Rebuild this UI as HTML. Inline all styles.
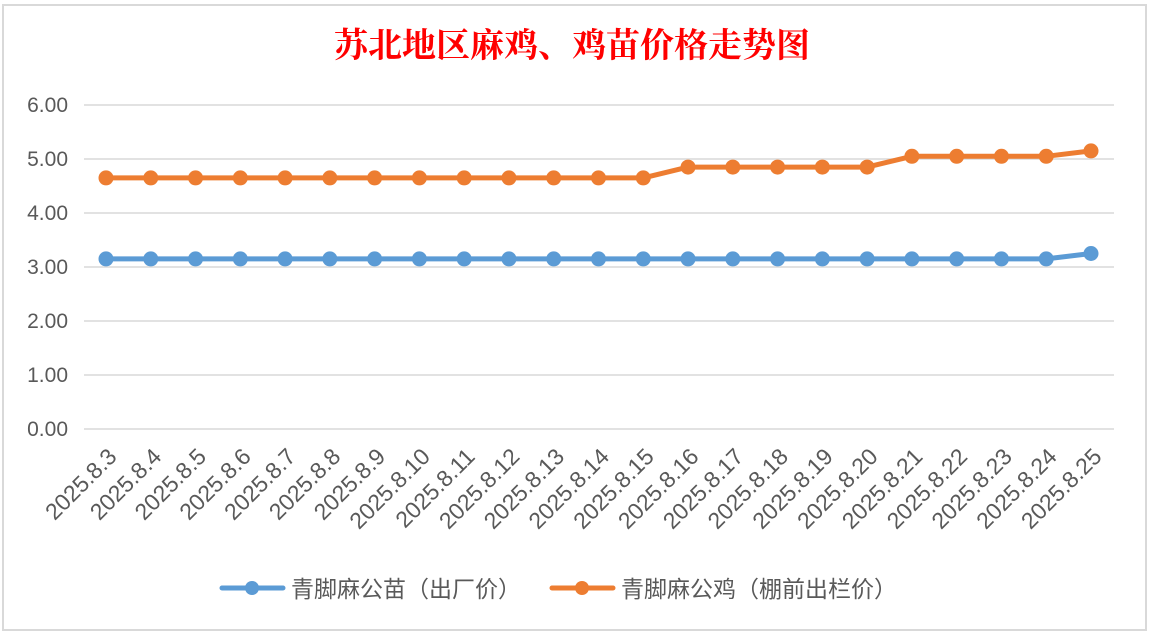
<!DOCTYPE html>
<html><head><meta charset="utf-8"><style>
html,body{margin:0;padding:0;background:#fff;}
svg{display:block;font-family:"Liberation Sans","Noto Sans CJK SC",sans-serif;}
</style></head><body>
<svg id="c" width="1150" height="635">
<rect x="3" y="5" width="1143" height="625" fill="#fff" stroke="#d9d9d9" stroke-width="2"/>
<text x="572" y="57" text-anchor="middle" font-size="34" font-weight="bold" fill="#ff0000" font-family="Liberation Serif,Noto Serif CJK SC,serif">苏北地区麻鸡、鸡苗价格走势图</text>
<g id="grid"></g><g id="ylab"></g><g id="xlab"></g><g id="series"></g>
<g>
<g>
<line x1="222" y1="588" x2="283" y2="588" stroke="#5b9bd5" stroke-width="5" stroke-linecap="round"/>
<circle cx="252" cy="588" r="7" fill="#5b9bd5"/>
<text x="291" y="597" font-size="23" fill="#595959">青脚麻公苗（出厂价）</text></g>
<g>
<line x1="552" y1="588" x2="613" y2="588" stroke="#ed7d31" stroke-width="5" stroke-linecap="round"/>
<circle cx="582" cy="588" r="7" fill="#ed7d31"/>
<text x="621" y="597" font-size="23" fill="#595959">青脚麻公鸡（棚前出栏价）</text></g>
</g>
</svg>
<script>
const categories=["2025.8.3","2025.8.4","2025.8.5","2025.8.6","2025.8.7","2025.8.8","2025.8.9","2025.8.10","2025.8.11","2025.8.12","2025.8.13","2025.8.14","2025.8.15","2025.8.16","2025.8.17","2025.8.18","2025.8.19","2025.8.20","2025.8.21","2025.8.22","2025.8.23","2025.8.24","2025.8.25"];
const chickPrice=[3.15,3.15,3.15,3.15,3.15,3.15,3.15,3.15,3.15,3.15,3.15,3.15,3.15,3.15,3.15,3.15,3.15,3.15,3.15,3.15,3.15,3.15,3.25];
const roosterPrice=[4.65,4.65,4.65,4.65,4.65,4.65,4.65,4.65,4.65,4.65,4.65,4.65,4.65,4.85,4.85,4.85,4.85,4.85,5.05,5.05,5.05,5.05,5.15];
const yTicks=["0.00","1.00","2.00","3.00","4.00","5.00","6.00"];
const NS="http://www.w3.org/2000/svg";
const x0=106,x1=1091,yBase=429,yTop=105,yMax=6;
function xs(i){return x0+(x1-x0)*i/(categories.length-1);}
function ys(v){return yBase-(yBase-yTop)*v/yMax;}
function mk(t,a,p){const e=document.createElementNS(NS,t);for(const k in a)e.setAttribute(k,a[k]);p.appendChild(e);return e;}
const grid=document.getElementById('grid'),ylab=document.getElementById('ylab'),xlab=document.getElementById('xlab'),ser=document.getElementById('series');
yTicks.forEach(t=>{const v=parseFloat(t);
const l=mk('line',{x1:84,x2:1114,y1:ys(v),y2:ys(v),stroke:'#d9d9d9','stroke-width':1.5},grid);


const tx=mk('text',{x:68,y:ys(v)+7,'text-anchor':'end','font-size':21,fill:'#595959'},ylab);
tx.textContent=t;


});
categories.forEach((c,i)=>{const x=xs(i)+12,y=458;
const tx=mk('text',{x:x,y:y,'text-anchor':'end','font-size':23,fill:'#595959',transform:`rotate(-45 ${x} ${y})`},xlab);
tx.textContent=c;


});
function draw(data,color,name){
const g=mk('g',{},ser);


const pl=mk('polyline',{points:data.map((v,i)=>xs(i)+','+ys(v)).join(' '),fill:'none',stroke:color,'stroke-width':5,'stroke-linejoin':'round'},g);


data.forEach((v,i)=>{const c=mk('circle',{cx:xs(i),cy:ys(v),r:7.5,fill:color},g);

});
}
draw(chickPrice,'#5b9bd5','series-chick');
draw(roosterPrice,'#ed7d31','series-rooster');
</script>
</body></html>
